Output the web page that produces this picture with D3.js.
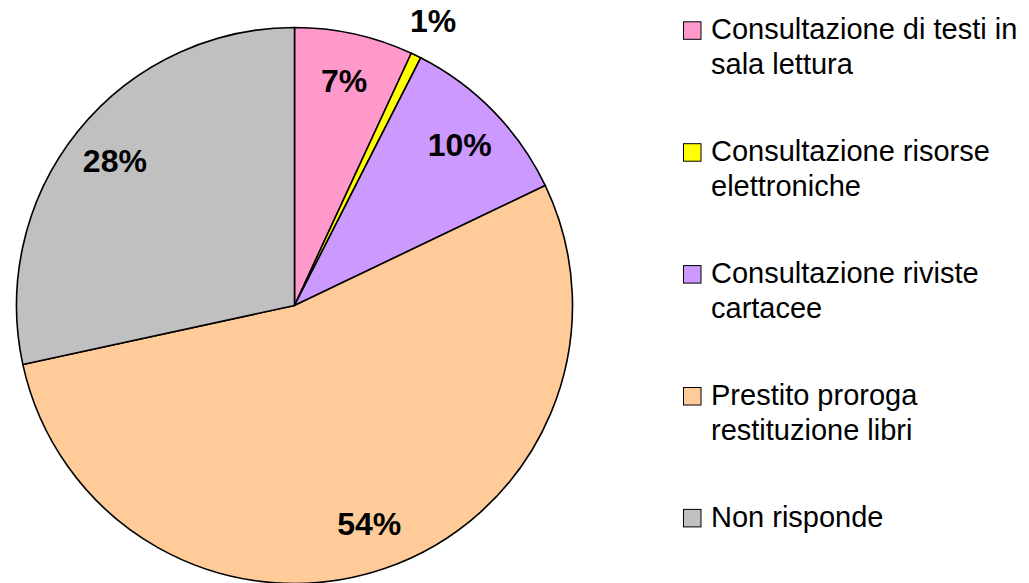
<!DOCTYPE html>
<html>
<head>
<meta charset="utf-8">
<script src="https://cdn.jsdelivr.net/npm/d3@7"></script>
<style>
  html, body { margin: 0; padding: 0; background: #fff; }
  svg { display: block; }
</style>
</head>
<body>
<script>
const WIDTH  = 1029;
const HEIGHT = 583;

// Dati (percentuali)
const categories = [
    ['Consultazione di testi in', 'sala lettura'],
    ['Consultazione risorse', 'elettroniche'],
    ['Consultazione riviste', 'cartacee'],
    ['Prestito proroga', 'restituzione libri'],
    ['Non risponde']
];
const values = [6.9, 0.6, 10.4, 53.7, 28.4];
const colors = ['#FF99CC', '#FFFF00', '#CC99FF', '#FFCC99', '#C0C0C0'];

const CX = 294.5, CY = 305.5, R = 278;

const svg = d3.select('body').append('svg')
    .attr('width', WIDTH)
    .attr('height', HEIGHT);

const data = values.map((v, i) => ({ value: v, name: categories[i], color: colors[i] }));

const pie = d3.pie().value(d => d.value).sort(null);
const arc = d3.arc().innerRadius(0).outerRadius(R);
const arcs = pie(data);

const g = svg.append('g').attr('transform', `translate(${CX},${CY})`);

g.selectAll('path')
    .data(arcs)
    .enter()
  .append('path')
    .attr('d', arc)
    .attr('fill', d => d.data.color)
    .attr('stroke', '#000')
    .attr('stroke-width', 1.6)
    .attr('stroke-linejoin', 'round');

// Etichette: le fette piccole stanno fuori dal cerchio
const labelPos = d => {
    const a = (d.startAngle + d.endAngle) / 2;
    const r = d.data.value < 2 ? R * 1.14 : R * 0.83;
    return [Math.sin(a) * r, -Math.cos(a) * r];
};

g.selectAll('text.label')
    .data(arcs)
    .enter()
  .append('text')
    .attr('class', 'label')
    .attr('x', d => labelPos(d)[0])
    .attr('y', d => labelPos(d)[1])
    .attr('dy', '0.36em')
    .attr('text-anchor', 'middle')
    .style('font-family', '"Liberation Sans", Arial, sans-serif')
    .style('font-weight', 'bold')
    .style('font-size', '32px')
    .attr('fill', '#000')
    .text(d => Math.round(d.data.value) + '%');

// Legenda
const LEG_X = 683, LEG_Y = 39.3, LEG_STEP = 121.9, LINE_H = 34.5, BOX = 17.5;

const legend = svg.append('g');
const items = legend.selectAll('g')
    .data(data)
    .enter()
  .append('g')
    .attr('transform', (d, i) => `translate(${LEG_X},${LEG_Y + i * LEG_STEP})`);

items.append('rect')
    .attr('x', 0.5)
    .attr('y', -BOX)
    .attr('width', BOX)
    .attr('height', BOX)
    .attr('fill', d => d.color)
    .attr('stroke', '#000')
    .attr('stroke-width', 1);

items.append('text')
    .attr('x', 28)
    .style('font-family', '"Liberation Sans", Arial, sans-serif')
    .style('font-size', '29px')
    .attr('fill', '#000')
    .selectAll('tspan')
    .data(d => d.name)
    .enter()
  .append('tspan')
    .attr('x', 28)
    .attr('y', (t, j) => j * LINE_H)
    .text(t => t);
</script>
</body>
</html>
